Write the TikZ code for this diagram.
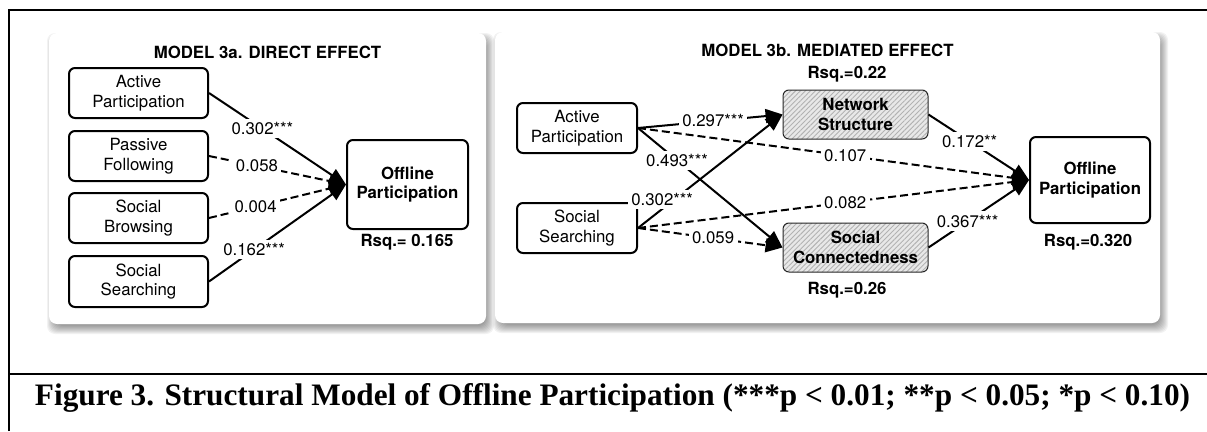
\documentclass[tikz,border=0pt]{standalone}
\usepackage{fontspec}
\setmainfont{TeX Gyre Heros}
\newfontfamily\capfont{Liberation Serif}
\usetikzlibrary{arrows.meta,patterns.meta,calc}
\begin{document}
\begin{tikzpicture}[x=1pt,y=-1pt,
  font=\fontsize{16.8}{19.7}\selectfont,
  box/.style={draw, line width=2pt, rounded corners=6pt, align=center, inner sep=0pt, fill=white},
  bbox/.style={box, font=\fontsize{16.8}{19.7}\selectfont\bfseries},
  hatch/.style={draw=black!85, line width=1pt, rounded corners=6pt, align=center, inner sep=0pt,
    preaction={fill=gray!18}, pattern={Lines[angle=45,distance=3.5pt,line width=0.9pt]}, pattern color=gray!60,
    font=\fontsize{16.8}{19.7}\selectfont\bfseries},
  conn/.style={line width=2pt, -{Triangle[length=17pt,width=14pt]}},
  dconn/.style={conn, dash pattern=on 8pt off 4pt},
  lab/.style={fill=white, inner sep=3.5pt},
  btext/.style={font=\fontsize{16.8}{19.7}\selectfont\bfseries},
  frame/.style={line width=2pt},
]
\useasboundingbox (0,0) rectangle (1207,431);
% outer frame
\draw[frame] (9,431) -- (9,10) -- (1207,10);
\draw[frame] (9,374) -- (1207,374);
% panel shadows and panels
\foreach \e in {-3,...,5} {
  \fill[black,opacity=0.05,rounded corners=8pt] (49+3-\e,33+5-\e) rectangle (486+3+\e,324+5+\e);
  \fill[black,opacity=0.05,rounded corners=8pt] (495+3-\e,32+5-\e) rectangle (1160+3+\e,323+5+\e);
}
\fill[white,rounded corners=8pt] (49,33) rectangle (486,324);
\fill[white,rounded corners=8pt] (495,32) rectangle (1160,323);

% ---------- left panel ----------
\node[btext] (ltitle) at (267.5,52) {MODEL 3a. DIRECT EFFECT};
\node[box, minimum width=139pt, minimum height=50pt] (lA) at (138.5,93) {Active\\Participation};
\node[box, minimum width=139pt, minimum height=50pt] (lP) at (138.5,156) {Passive\\Following};
\node[box, minimum width=139pt, minimum height=50pt] (lB) at (138.5,218) {Social\\Browsing};
\node[box, minimum width=139pt, minimum height=51pt] (lS) at (138.5,281.5) {Social\\Searching};
\node[bbox, minimum width=121pt, minimum height=89pt] (lO) at (407.5,184.5) {Offline\\Participation};
\node[btext] (lrsq) at (407,242) {Rsq.= 0.165};

\draw[conn] (lA.east) -- (lO.west) node[lab,pos=0.39] {0.302***};
\draw[dconn] (lP.east) -- (lO.west) node[lab,pos=0.35] {0.058};
\draw[dconn] (lB.east) -- (lO.west) node[lab,pos=0.34] {0.004};
\draw[conn] (lS.east) -- (lO.west) node[lab,pos=0.33] {0.162***};

% ---------- right panel ----------
\node[btext] (rtitle) at (827.5,50) {MODEL 3b. MEDIATED EFFECT};
\node[btext] (rsqn) at (847,74) {Rsq.=0.22};
\node[box, minimum width=120pt, minimum height=50pt] (rA) at (577,128) {Active\\Participation};
\node[box, minimum width=120pt, minimum height=50pt] (rS) at (577,228) {Social\\Searching};
\node[hatch, minimum width=145pt, minimum height=49pt] (rN) at (855.5,114.5) {Network\\Structure};
\node[hatch, minimum width=145pt, minimum height=49pt] (rC) at (855.5,247.5) {Social\\Connectedness};
\node[btext] (rsqc) at (847,290) {Rsq.=0.26};
\node[bbox, minimum width=120pt, minimum height=86pt] (rO) at (1090,180) {Offline\\Participation};
\node[btext] (rsqo) at (1088,242) {Rsq.=0.320};

\draw[dconn] (rA.east) -- (rO.west) node[lab,pos=0.53] {0.107};
\draw[dconn] (rS.east) -- (rO.west) node[lab,pos=0.53] {0.082};
\draw[dconn] (rS.east) -- (rC.west) node[lab,pos=0.52] {0.059};
\draw[conn] (rA.east) -- (rN.west) node[lab,pos=0.52] {0.297***};
\draw[conn] (rA.east) -- (rC.west) node[lab,pos=0.27] {0.493***};
\draw[conn] (rS.east) -- (rN.west) node[lab,pos=0.25,xshift=-12pt] {0.302***};
\draw[conn] (rN.east) -- (rO.west) node[lab,pos=0.41] {0.172**};
\draw[conn] (rC.east) -- (rO.west) node[lab,pos=0.39] {0.367***};

% caption
\node (cap) at (612.5,398) {\resizebox{1155pt}{!}{\capfont\bfseries\fontsize{25}{30}\selectfont Figure 3. Structural Model of Offline Participation (***p < 0.01; **p < 0.05; *p < 0.10)}};
\end{tikzpicture}
\end{document}
